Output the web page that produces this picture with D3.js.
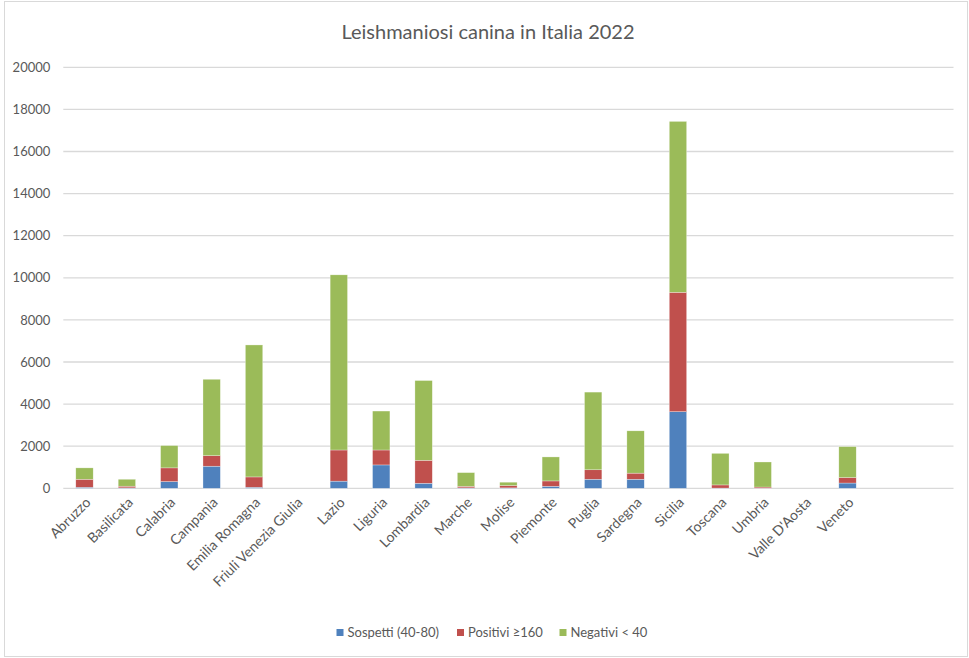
<!DOCTYPE html>
<html><head><meta charset="utf-8">
<script src="https://cdn.jsdelivr.net/npm/d3@7"></script>
<style>
html,body{margin:0;padding:0;background:#fff;}
text{font-family:Lato,"Open Sans",Calibri,sans-serif;}
</style></head>
<body><svg id="chart" width="969" height="658"></svg>
<script>
const categories = ["Abruzzo","Basilicata","Calabria","Campania","Emilia Romagna","Friuli Venezia Giulia","Lazio","Liguria","Lombardia","Marche","Molise","Piemonte","Puglia","Sardegna","Sicilia","Toscana","Umbria","Valle D'Aosta","Veneto","",""];
const sospetti = [50,20,320,1050,50,0,340,1110,240,20,20,95,430,430,3640,10,5,0,250,0,0];
const positivi = [380,80,650,500,490,0,1480,710,1090,75,110,255,450,290,5670,150,55,0,260,0,0];
const negativi = [540,330,1060,3630,6270,0,8320,1850,3790,650,160,1140,3690,2010,8120,1500,1190,0,1470,0,0];
const seriesNames = ["Sospetti (40-80)","Positivi \u2265160","Negativi < 40"];
const colors = ["#4f81bd","#c0504d","#9bbb59"];
const yTicks = [0,2000,4000,6000,8000,10000,12000,14000,16000,18000,20000];

const svg = d3.select("#chart");
svg.append("rect").attr("x",4.5).attr("y",1.5).attr("width",963).attr("height",655)
  .attr("fill","#fff").attr("stroke","#d9d9d9");

const mLeft = 63.3, mRight = 953.5, mTop = 67.3, mBottom = 488.3;
const keys = categories.map((c,i)=>"k"+i);
const x = d3.scaleBand().domain(keys).range([mLeft,mRight]).paddingInner(0.59).paddingOuter(0.295);
const y = d3.scaleLinear().domain([0,20000]).range([mBottom,mTop]);

svg.append("text").attr("x",488).attr("y",39).attr("text-anchor","middle")
  .attr("font-size",20).attr("fill","#595959").text("Leishmaniosi canina in Italia 2022");

const grid = svg.append("g");
grid.selectAll("line").data(yTicks).join("line")
  .attr("x1",mLeft).attr("x2",mRight).attr("y1",d=>y(d)).attr("y2",d=>y(d))
  .attr("stroke","#d9d9d9").attr("stroke-width",1.3);

const yAxis = svg.append("g").attr("transform",`translate(${mLeft},0)`)
  .call(d3.axisLeft(y).tickValues(yTicks).tickSize(0).tickPadding(13).tickFormat(d3.format("d")));
yAxis.select(".domain").remove();
yAxis.selectAll("text").attr("font-size",13).attr("fill","#595959")
  .style("font-family",'Lato,"Open Sans",sans-serif');

const data = categories.map((c,i)=>({key:keys[i],s0:sospetti[i],s1:positivi[i],s2:negativi[i]}));
const stack = d3.stack().keys(["s0","s1","s2"])(data);
svg.append("g").selectAll("g").data(stack).join("g").attr("fill",(d,i)=>colors[i])
  .selectAll("rect").data(d=>d).join("rect")
  .attr("x",d=>x(d.data.key)).attr("width",x.bandwidth())
  .attr("y",d=>y(d[1])).attr("height",d=>Math.max(0,y(d[0])-y(d[1])))
  .attr("stroke","#fff").attr("stroke-width",0.5).attr("stroke-opacity",0.6);

const xAxis = svg.append("g").attr("transform",`translate(0,${mBottom})`)
  .call(d3.axisBottom(x).tickSize(0).tickFormat((d,i)=>categories[i]));
xAxis.select(".domain").remove();
xAxis.selectAll("text").attr("font-size",14).attr("fill","#595959")
  .style("font-family",'Lato,"Open Sans",sans-serif')
  .attr("text-anchor","end").attr("dy",0).attr("y",0)
  .attr("transform","translate(7,15) rotate(-45)");

const legX = [336.5, 457, 559.5];
const leg = svg.append("g");
seriesNames.forEach((n,i)=>{
  leg.append("rect").attr("x",legX[i]).attr("y",629).attr("width",7).attr("height",7).attr("fill",colors[i]);
  leg.append("text").attr("x",legX[i]+11).attr("y",637).attr("font-size",13).attr("fill","#595959").text(n);
});
</script></body></html>
